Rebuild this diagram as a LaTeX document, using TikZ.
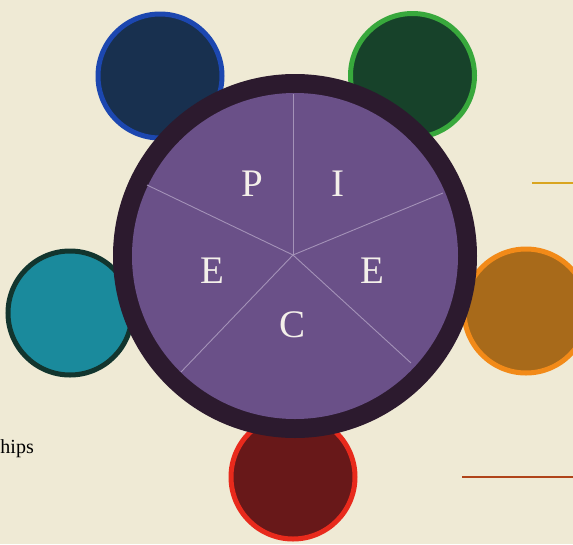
\documentclass[tikz,border=0pt]{standalone}
\usepackage{fontspec}
\setmainfont{Liberation Serif}
\usetikzlibrary{calc}
\definecolor{paper}{HTML}{EFEAD5}
\definecolor{bluefill}{HTML}{18304F}
\definecolor{blueedge}{HTML}{1C47B0}
\definecolor{greenfill}{HTML}{17422A}
\definecolor{greenedge}{HTML}{38A83C}
\definecolor{tealfill}{HTML}{1A8A9C}
\definecolor{tealedge}{HTML}{12352E}
\definecolor{orangefill}{HTML}{A86A1A}
\definecolor{orangeedge}{HTML}{F28A18}
\definecolor{redfill}{HTML}{681819}
\definecolor{rededge}{HTML}{E82A1C}
\definecolor{ringcol}{HTML}{2C1A2E}
\definecolor{piecol}{HTML}{6A5088}
\definecolor{spokecol}{HTML}{A492B8}
\definecolor{lettercol}{HTML}{F4F0EA}
\definecolor{rulegold}{HTML}{D9A520}
\definecolor{rulered}{HTML}{B0441A}
\begin{document}
\begin{tikzpicture}[x=1pt,y=-1pt,
  satellite/.style={circle,line width=5pt,minimum size=124pt,inner sep=0pt},
  letter/.style={text=lettercol,font=\fontsize{39}{39}\selectfont,inner sep=0pt},
  spoke/.style={draw=spokecol,line width=0.9pt},
  rulebar/.style={line width=2pt}]
\useasboundingbox (0,0) rectangle (573,544);
\clip (0,0) rectangle (573,544);
\fill[paper] (0,0) rectangle (573,544);
% satellite circles
\node[satellite,draw=blueedge,fill=bluefill] (blue) at (160,76) {};
\node[satellite,draw=greenedge,fill=greenfill] (green) at (412.5,75.5) {};
\node[satellite,draw=tealedge,fill=tealfill] (teal) at (70,313) {};
\node[satellite,draw=orangeedge,fill=orangefill] (orange) at (526,311) {};
\node[satellite,draw=rededge,fill=redfill] (red) at (293,477) {};
% main ring and pie
\node[circle,fill=ringcol,minimum size=364pt,inner sep=0pt] (ring) at (295,256) {};
\node[circle,fill=piecol,minimum size=326pt,inner sep=0pt] (pie) at (295,256) {};
\coordinate (hub) at (293,255);
\coordinate (s1) at ($(hub)+(0,-161)$);
\coordinate (s2) at ($(hub)+(-146,-70)$);
\coordinate (s3) at ($(hub)+(150,-62)$);
\coordinate (s4) at ($(hub)+(-112,117)$);
\coordinate (s5) at ($(hub)+(118,108)$);
\foreach \s in {s1,s2,s3,s4,s5} \draw[spoke] (hub) -- (\s);
% letters
\node[letter] (lp) at (252,184) {P};
\node[letter] (li) at (338,184) {I};
\node[letter] (le1) at (212,271) {E};
\node[letter] (le2) at (372,271) {E};
\node[letter] (lc) at (293,325) {C};
% margin text and rules
\node[anchor=base east,font=\fontsize{20}{20}\selectfont,inner sep=0pt] (hips) at (34,453) {hips};
\coordinate (g1) at (532,183);
\coordinate (g2) at (573,183);
\draw[rulebar,draw=rulegold] (g1) -- (g2);
\coordinate (r1) at (462,477);
\coordinate (r2) at (573,477);
\draw[rulebar,draw=rulered] (r1) -- (r2);
\end{tikzpicture}
\end{document}
